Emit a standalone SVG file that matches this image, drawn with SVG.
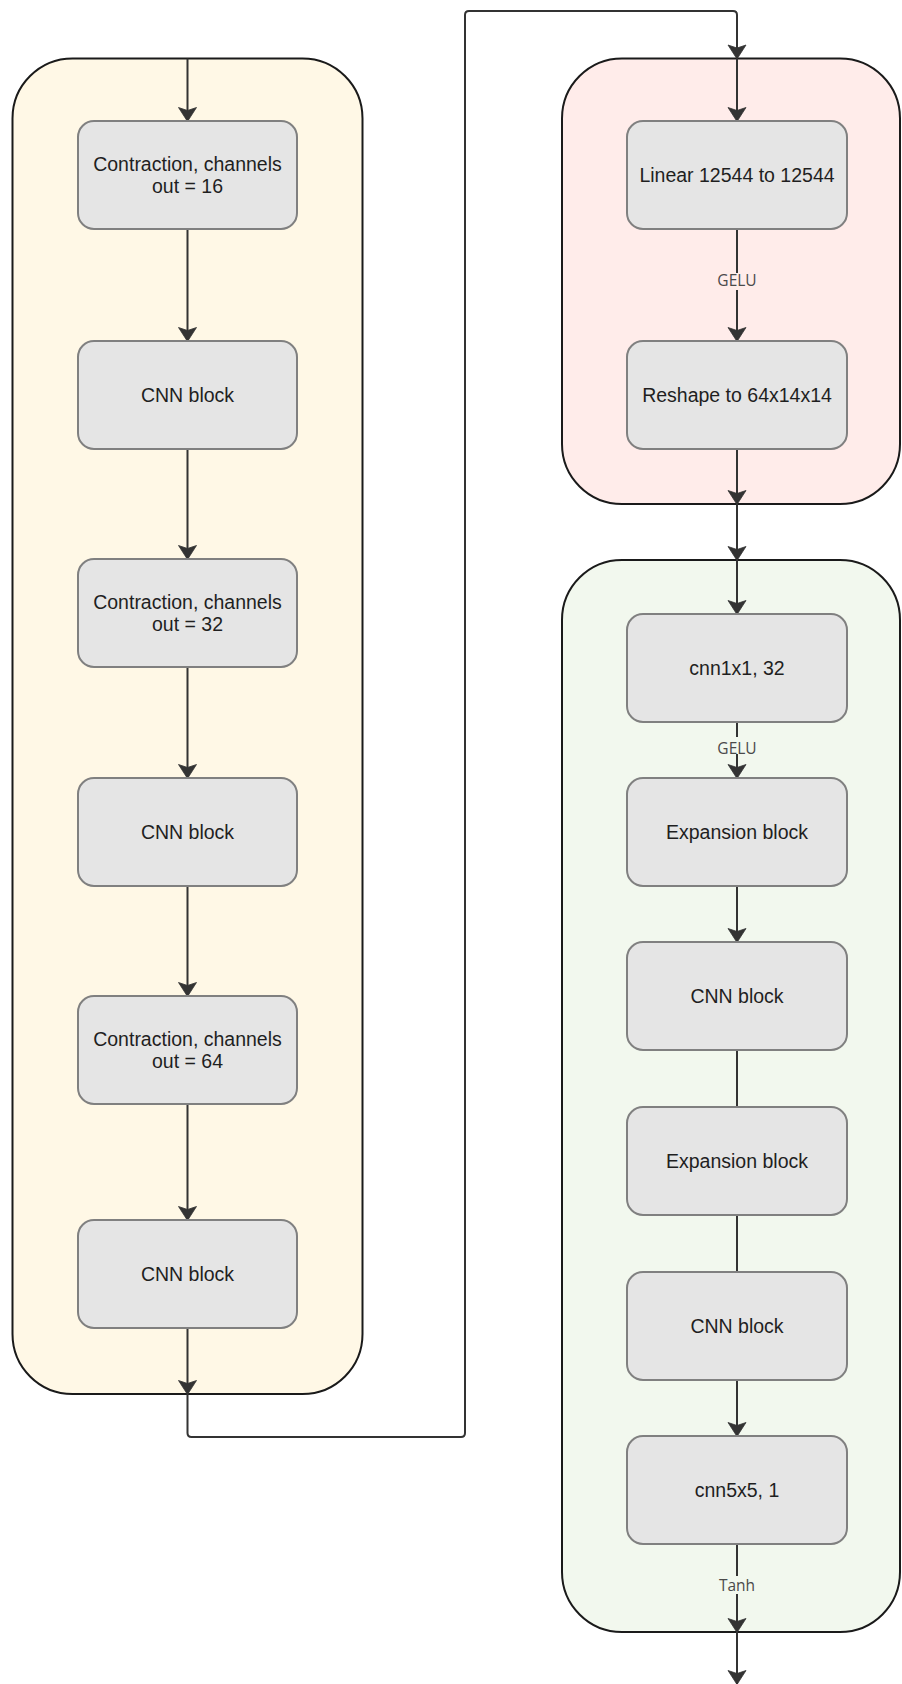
<svg xmlns="http://www.w3.org/2000/svg" width="902" height="1684" viewBox="0 0 902 1684">
  <style>
    .cont { stroke: #1a1a1a; stroke-width: 2; }
    .node rect { fill: #e5e5e5; stroke: #808080; stroke-width: 2; }
    .node text { font-family: "Liberation Sans", Arial, sans-serif; font-size: 19.5px; fill: #1f1f1f; text-anchor: middle; }
    .edge { stroke: #333333; stroke-width: 2; fill: none; }
    .lbl { font-family: "Open Sans", "Noto Sans", sans-serif; font-size: 15.5px; fill: #4a4a4a; text-anchor: middle; }
  </style>
  <defs>
    <marker id="arr" markerUnits="userSpaceOnUse" viewBox="-15 -10 16 20" refX="0" refY="0" markerWidth="16" markerHeight="20" orient="auto">
      <path d="M0.5 0 L-13.5 -9 L-10.5 0 L-13.5 9 Z" fill="#333333" stroke="#333333" stroke-width="0.8" stroke-linejoin="round"/>
    </marker>
  </defs>
  <rect width="902" height="1684" fill="#ffffff"/>

  <g id="containers">
    <rect id="encoder" class="cont" x="12.5" y="58.5" width="350" height="1335.5" rx="60" ry="60" fill="#fff8e6"/>
    <rect id="bottleneck" class="cont" x="562" y="58.5" width="338" height="445.5" rx="60" ry="60" fill="#ffecea"/>
    <rect id="decoder" class="cont" x="562" y="560" width="338" height="1072" rx="60" ry="60" fill="#f2f8ee"/>
  </g>

  <g id="connectors">
    <line class="edge" x1="187.5" y1="58.5" x2="187.5" y2="121" marker-end="url(#arr)"/>
    <line class="edge" x1="187.5" y1="229" x2="187.5" y2="341" marker-end="url(#arr)"/>
    <line class="edge" x1="187.5" y1="449" x2="187.5" y2="559" marker-end="url(#arr)"/>
    <line class="edge" x1="187.5" y1="667" x2="187.5" y2="778" marker-end="url(#arr)"/>
    <line class="edge" x1="187.5" y1="886" x2="187.5" y2="996" marker-end="url(#arr)"/>
    <line class="edge" x1="187.5" y1="1104" x2="187.5" y2="1220" marker-end="url(#arr)"/>
    <line class="edge" x1="187.5" y1="1328" x2="187.5" y2="1394" marker-end="url(#arr)"/>
    <path class="edge" d="M187.5 1394 V1433 Q187.5 1437 191.5 1437 H461 Q465 1437 465 1433 V15 Q465 11 469 11 H733 Q737 11 737 15 V58.5" marker-end="url(#arr)"/>

    <line class="edge" x1="737" y1="58.5" x2="737" y2="121" marker-end="url(#arr)"/>
    <line class="edge" x1="737" y1="229" x2="737" y2="341" marker-end="url(#arr)"/>
    <line class="edge" x1="737" y1="449" x2="737" y2="504" marker-end="url(#arr)"/>
    <line class="edge" x1="737" y1="504" x2="737" y2="560" marker-end="url(#arr)"/>
    <line class="edge" x1="737" y1="560" x2="737" y2="614" marker-end="url(#arr)"/>
    <line class="edge" x1="737" y1="722" x2="737" y2="778" marker-end="url(#arr)"/>
    <line class="edge" x1="737" y1="886" x2="737" y2="942" marker-end="url(#arr)"/>
    <line class="edge" x1="737" y1="1050" x2="737" y2="1107"/>
    <line class="edge" x1="737" y1="1215" x2="737" y2="1272"/>
    <line class="edge" x1="737" y1="1380" x2="737" y2="1436" marker-end="url(#arr)"/>
    <line class="edge" x1="737" y1="1544" x2="737" y2="1632" marker-end="url(#arr)"/>
    <line class="edge" x1="737" y1="1632" x2="737" y2="1684" marker-end="url(#arr)"/>

    <rect x="715" y="273" width="44" height="17" fill="#ffecea"/>
    <text class="lbl" x="737" y="286">GELU</text>
    <rect x="715" y="737" width="44" height="17" fill="#f2f8ee"/>
    <text class="lbl" x="737" y="754">GELU</text>
    <rect x="715" y="1576" width="44" height="18" fill="#f2f8ee"/>
    <text class="lbl" x="737" y="1591">Tanh</text>
  </g>

  <g id="n1" class="node"><rect x="78" y="121" width="219" height="108" rx="16"/><text x="187.5" y="170.5">Contraction, channels</text><text x="187.5" y="192.5">out = 16</text></g>
  <g id="n2" class="node"><rect x="78" y="341" width="219" height="108" rx="16"/><text x="187.5" y="402">CNN block</text></g>
  <g id="n3" class="node"><rect x="78" y="559" width="219" height="108" rx="16"/><text x="187.5" y="608.5">Contraction, channels</text><text x="187.5" y="630.5">out = 32</text></g>
  <g id="n4" class="node"><rect x="78" y="778" width="219" height="108" rx="16"/><text x="187.5" y="839">CNN block</text></g>
  <g id="n5" class="node"><rect x="78" y="996" width="219" height="108" rx="16"/><text x="187.5" y="1045.5">Contraction, channels</text><text x="187.5" y="1067.5">out = 64</text></g>
  <g id="n6" class="node"><rect x="78" y="1220" width="219" height="108" rx="16"/><text x="187.5" y="1281">CNN block</text></g>

  <g id="n7" class="node"><rect x="627" y="121" width="220" height="108" rx="16"/><text x="737" y="182">Linear 12544 to 12544</text></g>
  <g id="n8" class="node"><rect x="627" y="341" width="220" height="108" rx="16"/><text x="737" y="402">Reshape to 64x14x14</text></g>
  <g id="n9" class="node"><rect x="627" y="614" width="220" height="108" rx="16"/><text x="737" y="675">cnn1x1, 32</text></g>
  <g id="n10" class="node"><rect x="627" y="778" width="220" height="108" rx="16"/><text x="737" y="839">Expansion block</text></g>
  <g id="n11" class="node"><rect x="627" y="942" width="220" height="108" rx="16"/><text x="737" y="1003">CNN block</text></g>
  <g id="n12" class="node"><rect x="627" y="1107" width="220" height="108" rx="16"/><text x="737" y="1168">Expansion block</text></g>
  <g id="n13" class="node"><rect x="627" y="1272" width="220" height="108" rx="16"/><text x="737" y="1333">CNN block</text></g>
  <g id="n14" class="node"><rect x="627" y="1436" width="220" height="108" rx="16"/><text x="737" y="1497">cnn5x5, 1</text></g>
</svg>
